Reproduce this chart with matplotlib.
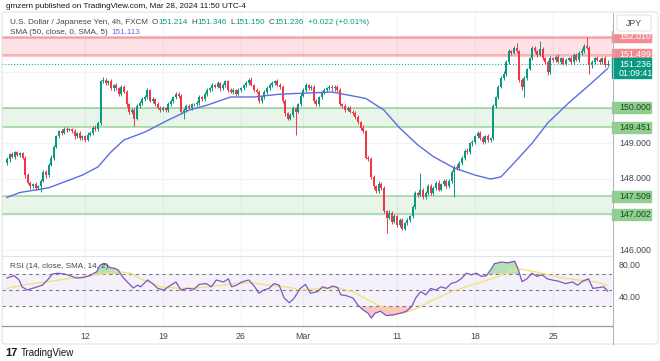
import numpy as np
import matplotlib.pyplot as plt
from matplotlib import transforms
from matplotlib.patches import Rectangle, FancyBboxPatch
from matplotlib.lines import Line2D

plt.rcParams['font.family'] = ['Liberation Sans', 'DejaVu Sans']

# USDJPY 4h closes, six bars per trading day, Feb 5 .. Mar 28 2024
closes = [
    148.55, 148.70, 148.62, 148.75, 148.68, 148.72,  # Feb 5
    148.60, 148.10, 147.90, 147.80, 147.85, 147.75,
    147.80, 147.95, 148.20, 148.10, 148.40, 148.60,
    148.90, 149.20, 149.35, 149.30, 149.42, 149.38,
    149.40, 149.35, 149.20, 149.30, 149.15, 149.20,
    149.10, 149.25, 149.30, 149.45, 149.40, 149.58,  # Feb 12
    150.75, 150.80, 150.70, 150.75, 150.55, 150.65,
    150.55, 150.40, 150.60, 150.45, 150.10, 149.90,
    149.95, 149.70, 150.05, 150.15, 150.25, 150.30,
    150.50, 150.20, 150.25, 150.10, 150.00, 149.95,
    150.00, 149.95, 150.10, 150.20, 150.30, 150.40,  # Feb 19
    150.35, 149.90, 149.95, 150.05, 150.00, 150.10,
    150.10, 150.15, 150.30, 150.25, 150.40, 150.50,
    150.55, 150.65, 150.60, 150.70, 150.55, 150.65,
    150.75, 150.50, 150.45, 150.50, 150.40, 150.50,
    150.55, 150.65, 150.70, 150.80, 150.65, 150.50,  # Feb 26
    150.45, 150.20, 150.30, 150.45, 150.55, 150.65,
    150.70, 150.75, 150.65, 150.60, 150.20, 149.85,
    149.70, 149.80, 150.00, 149.90, 150.10, 150.35,
    150.50, 150.65, 150.55, 150.60, 150.20, 150.10,
    150.30, 150.45, 150.50, 150.55, 150.60, 150.55,  # Mar 4
    150.60, 150.50, 150.10, 150.05, 149.95, 150.00,
    149.90, 149.85, 149.75, 149.60, 149.45, 149.35,
    148.60, 148.55, 148.05, 147.80, 147.65, 147.85,
    147.75, 147.10, 146.90, 147.05, 146.80, 146.95,
    146.70, 146.85, 146.60, 146.75, 146.85, 146.95,  # Mar 11
    147.20, 147.60, 147.55, 147.70, 147.50, 147.60,
    147.80, 147.60, 147.75, 147.90, 147.70, 147.85,
    147.95, 147.80, 147.95, 148.20, 148.35, 148.30,
    148.45, 148.60, 148.80, 148.75, 149.00, 149.05,
    149.20, 149.30, 149.15, 149.05, 149.20, 149.10,  # Mar 18
    149.15, 150.05, 150.30, 150.60, 150.85, 150.95,
    151.30, 151.60, 151.55, 151.70, 151.60, 150.80,
    150.60, 150.85, 151.10, 151.40, 151.70, 151.60,
    151.50, 151.65, 151.40, 151.30, 151.00, 151.40,
    151.35, 151.45, 151.30, 151.40, 151.25, 151.35,  # Mar 25
    151.40, 151.30, 151.50, 151.35, 151.55, 151.60,
    151.75, 151.70, 151.20, 151.30, 151.40, 151.35,
    151.30, 151.40, 151.214, 151.236,
]
first_open = 148.45

# wick length above / below the body, in 0.01 JPY
wick_up = [
    6, 4, 5, 3, 5, 4,  5, 4, 6, 5, 4, 6,  4, 5, 6, 4, 5, 7,  6, 5, 4, 6, 5, 4,  5, 4, 6, 3, 5, 4,
    4, 6, 5, 4, 6, 5,  5, 7, 4, 5, 6, 4,  6, 5, 4, 6, 5, 4,  4, 6, 5, 4, 5, 6,  6, 4, 5, 4, 6, 5,
    5, 4, 6, 5, 4, 5,  6, 5, 4, 6, 5, 4,  4, 5, 6, 4, 5, 6,  5, 6, 4, 5, 4, 6,  4, 5, 6, 5, 4, 5,
    5, 4, 6, 5, 6, 4,  6, 5, 4, 5, 6, 5,  5, 4, 6, 5, 4, 6,  4, 6, 5, 4, 5, 6,  6, 5, 4, 6, 5, 4,
    5, 4, 6, 5, 4, 5,  4, 6, 5, 4, 6, 5,  5, 4, 6, 5, 4, 6,  4, 5, 6, 5, 4, 8,  6, 5, 4, 8, 5, 6,
    5, 6, 4, 5, 6, 5,  6, 5, 4, 47, 5, 6, 5, 6, 4, 5, 6, 4,  4, 5, 6, 5, 4, 6,  6, 5, 4, 6, 5, 4,
    5, 4, 6, 5, 4, 6,  4, 6, 5, 6, 5, 8,  6, 5, 4, 5, 13, 4, 5, 6, 4, 5, 6, 4,  4, 25, 6, 5, 4, 6,
    5, 4, 6, 5, 4, 6,  4, 6, 5, 4, 6, 8,  6, 25, 4, 5, 4, 6,  5, 4, 6, 11,
]
wick_dn = [
    5, 6, 4, 5, 4, 6,  4, 6, 5, 7, 4, 6,  5, 17, 4, 6, 5, 4, 6, 4, 5, 6, 4, 5,  4, 5, 6, 4, 5, 6,
    6, 4, 5, 6, 4, 5,  5, 4, 6, 5, 4, 6,  4, 6, 5, 4, 6, 8,  6, 20, 4, 5, 6, 4, 5, 4, 6, 5, 4, 6,
    4, 5, 6, 4, 5, 4,  6, 8, 20, 5, 4, 6, 5, 4, 6, 5, 4, 5,  4, 6, 5, 4, 6, 5,  6, 5, 4, 6, 5, 4,
    5, 4, 6, 5, 4, 6,  4, 6, 5, 4, 5, 4,  6, 5, 4, 6, 5, 8,  5, 4, 6, 66, 4, 5, 4, 6, 5, 4, 6, 5,
    5, 4, 6, 5, 4, 6,  6, 5, 4, 6, 5, 4,  4, 6, 5, 4, 6, 5,  5, 4, 6, 8, 5, 4,  6, 5, 42, 4, 6, 5,
    5, 6, 4, 5, 4, 6,  4, 5, 6, 4, 5, 6,  6, 4, 5, 6, 4, 5,  5, 6, 4, 5, 70, 4, 4, 5, 6, 4, 5, 6,
    6, 4, 5, 6, 4, 5,  5, 4, 6, 5, 4, 6,  4, 6, 5, 4, 6, 8,  8, 30, 5, 4, 6, 5, 5, 4, 6, 5, 8, 4,
    6, 5, 4, 6, 5, 4,  4, 6, 5, 4, 6, 5,  5, 4, 25, 6, 5, 4, 6, 5, 6, 6,
]

# SMA(50) line, read at knots (bar index, value)
sma_bar = [0, 5, 16, 29, 35, 40, 45, 53, 62, 70, 77, 86, 95, 105, 125, 138, 145, 151,
           158, 164, 172, 180, 186, 190, 195, 202, 208, 216, 224, 231]
sma_val = [147.48, 147.62, 147.75, 148.11, 148.34, 148.76, 149.10, 149.32, 149.66, 149.94,
           150.08, 150.31, 150.31, 150.39, 150.45, 150.27, 149.94, 149.44, 148.96, 148.63,
           148.31, 148.11, 148.00, 148.06, 148.45, 149.01, 149.58, 150.14, 150.65, 151.11]

# RSI(14) and its SMA(14)
rsi_bar = [0, 2.7, 4.7, 5.8, 7.8, 9.7, 11.7, 13.6, 15.6, 17.5, 19.5, 22.2, 24.1, 26.8, 29.2,
           31.9, 34.6, 35.8, 37.7, 39.7, 41.6, 42.8, 44.4, 46.3, 48.6, 50.2, 51.4, 54.1, 56.0,
           58.0, 60.3, 63.0, 65.0, 66.9, 69.6, 72.0, 73.9, 76.7, 78.6, 80.5, 83.3, 85.2, 86.4,
           88.3, 90.3, 93.0, 95.3, 96.9, 98.8, 100.8, 102.7, 104.7, 106.6, 108.6, 110.5, 112.8,
           114.8, 116.7, 119.5, 121.4, 123.3, 125.3, 127.2, 128.4, 130.4, 133.1, 135.0, 137.0,
           138.9, 140.1, 141.6, 143.6, 145.9, 148.6, 151.4, 153.7, 155.6, 157.2, 159.1, 161.1,
           163.0, 165.0, 166.9, 168.9, 170.8, 172.8, 174.7, 176.7, 178.6, 180.5, 182.5, 184.4,
           186.4, 187.5, 190.3, 192.6, 195.3, 196.5, 198.1, 200.0, 201.9, 203.9, 205.8, 207.8,
           209.7, 212.1, 214.8, 217.5, 219.5, 221.4, 223.7, 225.3, 227.6, 229.5, 231.0]
rsi_val = [65, 68, 62.5, 54, 50, 52, 54, 56, 62.5, 70, 71, 70, 68, 65, 65.5,
           68, 73, 81, 83, 78, 77, 75, 66.7, 60, 52.5, 56, 54, 62.5, 58,
           52, 50, 56, 60, 50, 52, 51, 57, 58, 54, 62.5, 60, 64, 54,
           56, 60, 62.5, 54, 46, 50, 52, 58, 56, 40, 34, 40, 52,
           57, 46, 48, 54, 52, 55, 53, 44, 43, 40, 31, 25,
           21, 15, 21, 23.5, 18, 19, 21, 23.5, 29, 40, 48, 44,
           52, 50, 54, 52, 58, 60, 64, 71, 69, 71, 67, 68,
           77, 83, 85, 84, 86, 77, 60.4, 64, 71, 67, 69, 64,
           62.5, 61, 58, 60, 56, 61, 64, 52, 53, 54, 48.7]
rsi_ma_bar = [0, 7.4, 15.2, 23, 30.7, 38.5, 42.4, 47.5, 52.5, 59.1, 66.9, 74.7, 82.5, 87.5,
              93, 100.8, 107, 113.6, 121.4, 126.5, 133.1, 139.7, 145.9, 152.5, 157.6, 163,
              170.8, 178.6, 186.4, 194.2, 198.1, 204.3, 212.1, 219.8, 226.5, 231]
rsi_ma_val = [52, 57, 60, 64, 67, 71, 73, 71, 62.5, 54, 52, 53, 56, 58,
              59, 56, 54, 50, 52, 53, 48, 36, 27, 21, 27, 36,
              48, 56, 64, 74, 76, 72, 66, 62.5, 60, 55.64]

red_zone = (151.499, 152.010)
green_zones = [(149.451, 150.000), (147.002, 147.509)]
last_price = 151.236
tick_bars = [30, 60, 90, 114, 150, 180, 210]
tick_labels = ['12', '19', '26', 'Mar', '11', '18', '25']
price_ticks = [146, 148, 149]
rsi_ticks = [40, 80]

UP, DOWN = '#089981', '#f23645'
TXT = '#434651'
W, H = 660, 361
FS = 5.9

fig = plt.figure(figsize=(6.6, 3.61), dpi=100)


def px_rect(x0, y0, x1, y1):
    return [x0 / W, 1 - y1 / H, (x1 - x0) / W, (y1 - y0) / H]


def fpos(x, y):
    return x / W, 1 - y / H


ax = fig.add_axes(px_rect(2, 13, 612, 256))
rax = fig.add_axes(px_rect(2, 256, 612, 326), sharex=ax)
for a in (ax, rax):
    for s in a.spines.values():
        s.set_visible(False)
    a.tick_params(length=0)
    for t in tick_bars:
        a.axvline(t, color='#f0f3fa', lw=0.8, zorder=0)

ax.set_xlim(-1.9, 232.7)
ax.set_ylim(145.831, 152.676)
rax.set_ylim(5, 92.5)
ax.set_yticks([])
rax.set_yticks([])
ax.tick_params(labelbottom=False)
for p in range(146, 153):
    ax.axhline(p, color='#f0f3fa', lw=0.8, zorder=0)

# zones
ax.axhspan(*red_zone, color='#f7525f', alpha=0.17, lw=0, zorder=1)
for v in red_zone:
    ax.axhline(v, color='#f7525f', alpha=0.45, lw=1.8, zorder=1)
for z in green_zones:
    ax.axhspan(*z, color='#4caf50', alpha=0.12, lw=0, zorder=1)
    for v in z:
        ax.axhline(v, color='#4caf50', alpha=0.45, lw=1.3, zorder=1)

# candles
c = np.array(closes)
o = np.array([first_open] + closes[:-1])
idx = np.arange(len(c))
hi = np.maximum(o, c) + np.array(wick_up) / 100
lo = np.minimum(o, c) - np.array(wick_dn) / 100
cols = np.where(c >= o, UP, DOWN)
ax.vlines(idx, lo, hi, colors=cols, lw=0.7, zorder=3)
body = np.maximum(np.abs(c - o), 0.015)
ax.bar(idx, body, bottom=np.minimum(o, c), width=0.72, color=cols, lw=0, zorder=4)

ax.plot(sma_bar, sma_val, color='#5b6ee1', lw=1.0, zorder=5)
ax.axhline(last_price, color=UP, lw=0.7, ls=(0, (1, 2)), zorder=2)

# RSI pane
rax.fill_between([-1.9, 232.7], 30, 70, color='#7e57c2', alpha=0.08, lw=0)
for lvl in (70, 50, 30):
    rax.axhline(lvl, color='#787b86', lw=0.8, dashes=(3, 3))
rx, rv = np.array(rsi_bar), np.array(rsi_val)
rax.fill_between(rx, 70, rv, where=rv > 70, interpolate=True, color='#4caf50', alpha=0.4, lw=0)
rax.fill_between(rx, 30, rv, where=rv < 30, interpolate=True, color='#f77c80', alpha=0.45, lw=0)
rax.plot(rsi_ma_bar, rsi_ma_val, color='#f3e27a', lw=1.0)
rax.plot(rx, rv, color='#7e57c2', lw=0.9)
rax.set_xticks(tick_bars)
rax.set_xticklabels(tick_labels, fontsize=6.3, color=TXT)
rax.tick_params(axis='x', pad=4.5)

# right price scale
LX = (619 - 2) / 610


def tag(a, y, text, bg=None, fg=TXT, half=None):
    tr = transforms.blended_transform_factory(a.transAxes, a.transData)
    if bg is not None:
        a.add_patch(Rectangle((1.0, y - half), 0.064, 2 * half, transform=tr,
                              color=bg, clip_on=False, zorder=6))
    a.text(LX, y, text, transform=tr, ha='left', va='center', color=fg,
           fontsize=6.3, clip_on=False, zorder=7)


for p in price_ticks:
    tag(ax, p, f'{p:.3f}')
for r in rsi_ticks:
    tag(rax, r, f'{r:.2f}')
h = 5.5 / 35.5
for z in green_zones:
    for v in z:
        tag(ax, v, f'{v:.3f}', '#8fcf8f', '#1e4620', h)
for v in red_zone:
    tag(ax, v, f'{v:.3f}', '#f58b92', 'white', h)
tr = transforms.blended_transform_factory(ax.transAxes, ax.transData)
ax.add_patch(Rectangle((1.0, last_price - 14 / 35.5), 0.064, 20 / 35.5, transform=tr,
                       color=UP, clip_on=False, zorder=6))
ax.text(LX, last_price, f'{last_price:.3f}', transform=tr, ha='left', va='center',
        color='white', fontsize=6.3, clip_on=False, zorder=7)
ax.text(LX, last_price - 9 / 35.5, '01:09:41', transform=tr, ha='left', va='center',
        color='white', fontsize=6.3, clip_on=False, zorder=7)

# frame, separators, currency box
fig.add_artist(Rectangle(fpos(612.5, 33), 47 / W, 20 / H, transform=fig.transFigure,
                         color='white', zorder=8))
fig.add_artist(FancyBboxPatch(fpos(2, 344), 656 / W, 332 / H,
                              boxstyle='round,pad=0,rounding_size=0.006',
                              transform=fig.transFigure, fill=False, ec='#e0e3eb', lw=0.8, zorder=9))
fig.add_artist(FancyBboxPatch(fpos(617, 31), 34 / W, 16 / H,
                              boxstyle='round,pad=0,rounding_size=0.004',
                              transform=fig.transFigure, fc='white', ec='#e0e3eb', lw=0.8, zorder=9))
fig.text(*fpos(634, 23), 'JPY', ha='center', va='center', fontsize=6.3, color=TXT, zorder=10)
fig.add_artist(Line2D([612.5 / W] * 2, [1 - 13 / H, 1 - 344 / H], color='#b2b5be', lw=0.8, zorder=9))
fig.add_artist(Line2D([2 / W, 612 / W], [1 - 256 / H] * 2, color='#e0e3eb', lw=0.8, zorder=9))
fig.add_artist(Line2D([2 / W, 612 / W], [1 - 326 / H] * 2, color='#9598a1', lw=0.9, zorder=9))

# legends
fig.text(*fpos(6, 7), 'gmzern published on TradingView.com, Mar 28, 2024 11:50 UTC-4',
         fontsize=FS, color='#131722', va='center')

HEAD = [('U.S. Dollar / Japanese Yen, 4h, FXCM', TXT, 0),
        ('O', TXT, 4), ('151.214', UP, 0), ('H', TXT, 4), ('151.346', UP, 0),
        ('L', TXT, 4), ('151.150', UP, 0), ('C', TXT, 4), ('151.236', UP, 0),
        ('+0.022 (+0.01%)', UP, 4)]
SMA_LEG = [('SMA (50, close, 0, SMA, 5)', TXT, 0), ('151.113', '#5b6ee1', 4)]
RSI_LEG = [('RSI (14, close, SMA, 14, 2)', TXT, 0), ('48.70', '#7e57c2', 4),
           ('55.64', '#e8d44d', 4), ('\u2205 \u2205', TXT, 4)]

for x, y, parts in [(10, 23, HEAD), (10, 33, SMA_LEG), (10, 266, RSI_LEG)]:
    prev = fig.text(*fpos(x, y), parts[0][0], color=parts[0][1], fontsize=FS,
                    va='center', zorder=10)
    for s, col, gap in parts[1:]:
        prev = ax.annotate(s, xy=(1, 0.5), xycoords=prev, xytext=(gap, 0),
                           textcoords='offset pixels', color=col, fontsize=FS,
                           va='center', ha='left', annotation_clip=False, zorder=10)

fig.text(*fpos(5, 353), '17', fontsize=8, fontweight='bold', color='#131722', va='center')
fig.text(*fpos(21, 353), 'TradingView', fontsize=7, color='#131722', va='center')

fig.savefig('out.png', dpi=100, facecolor='white')
